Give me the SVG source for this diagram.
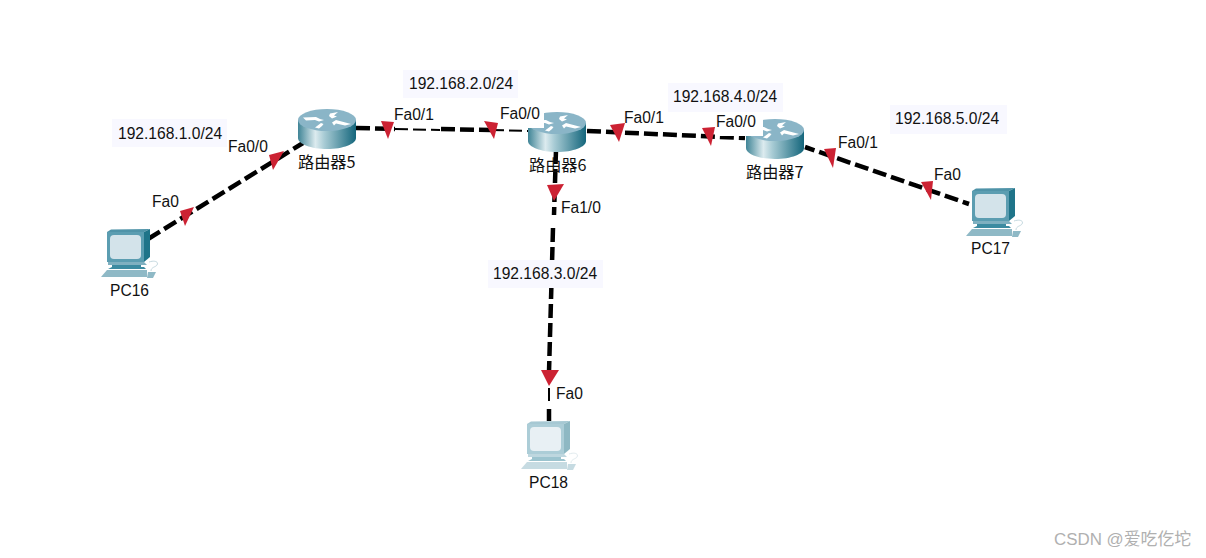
<svg xmlns="http://www.w3.org/2000/svg" xmlns:xlink="http://www.w3.org/1999/xlink" width="1206" height="558" viewBox="0 0 1206 558">
<style>
text{font-family:"Liberation Sans","Noto Sans CJK SC",sans-serif;font-size:15.6px;fill:#111}
.cjk{font-family:"Noto Sans CJK SC","Liberation Sans",sans-serif;font-size:16.2px}
.box{fill:#f8f8ff}
.w{fill:none;stroke:#000;stroke-width:4.5;stroke-dasharray:14 5}
.t{fill:none;stroke:#000;stroke-width:2;stroke-dasharray:13 5}
.m{fill:#cc2233}
.mask{fill:#fff}
.wm{font-family:"Liberation Sans","Noto Sans CJK SC",sans-serif;font-size:16.9px;fill:#b0b0b0}
</style>
<defs>
<linearGradient id="rg" x1="0" x2="1" y1="0" y2="0">
<stop offset="0" stop-color="#3f8496"/><stop offset="0.3" stop-color="#dcebef"/><stop offset="0.45" stop-color="#a9ccd5"/><stop offset="1" stop-color="#14667c"/>
</linearGradient>
<symbol id="router" width="58" height="40" viewBox="0 0 58 40" overflow="visible">
<path d="M0 11V29C0 35 13 40 29 40S58 35 58 29V11Z" fill="url(#rg)"/>
<ellipse cx="29" cy="11" rx="29" ry="11" fill="#8ab5c7"/>
<path d="M5 8.5L18 8L22 10L26 11L21 12.5L17 11L8 11.5ZM32 4.5L40 3L36 6.5L39 7.5L34 9.5L31 7ZM34 13.5L38 11L53 15L47 16.5L38 14.5L36 16.5ZM17 18.5L23 14L25.5 15L24 17L21 19.5Z" fill="#fff"/>
</symbol>
<symbol id="pc" width="58" height="49" viewBox="0 0 58 49" overflow="visible">
<path d="M6 3L10 0.5L49 0L43 3Z" fill="#4f93a8"/>
<path d="M43 3L49 0V28L43 33Z" fill="#1f7489"/>
<path d="M6 3H43V33H6Z" fill="#5b9db1"/>
<rect x="9" y="6" width="31" height="24" rx="4" fill="#d3e3ea"/>
<path d="M7 33H43L46 36H12L7 36Z" fill="#7fb0c0"/>
<path d="M11 36H40V38H43L45 40H7L11 38Z" fill="#3c8ba1"/>
<path d="M6 41H46V48H0Z" fill="#8fb9c6"/>
<path d="M47 43H55L52 49H46Z" fill="#8fb9c6"/>
<path d="M48 33C54 31 58 33 56 36C55 38 50 38 50 42" fill="none" stroke="#c4d8df" stroke-width="1"/>
</symbol>
</defs>
<g id="connectors">
<path class="w" d="M148 239L303 143"/>
<path class="w" d="M356 128L395 129"/>
<path class="t" d="M395 129L440 130"/>
<path class="w" d="M441 129L491 130"/>
<path class="t" d="M491 130L532 131"/>
<path class="w" d="M587 131L745 138"/>
<path class="w" d="M805 147L969 204" stroke-dashoffset="4"/>
<path class="w" d="M556 150L554 215" stroke-dasharray="50 5 60"/>
<path class="w" d="M553 228L549 372"/>
<path class="t" d="M549 388V405"/>
<path class="w" d="M549 409V421" stroke-dasharray="none"/>
<path class="m" d="M269 155L284 151L273 170Z"/>
<path class="m" d="M180 211L194 207L185 226Z"/>
<path class="m" d="M381 121L394 122L388 139Z"/>
<path class="m" d="M484 121L498 123L494 139Z"/>
<path class="m" d="M610 125L625 123L619 142Z"/>
<path class="m" d="M547 185L564 184L554 201Z"/>
<path class="m" d="M702 128L715 127L711 146Z"/>
<path class="m" d="M824 149L836 148L833 168Z"/>
<path class="m" d="M921 182L933 181L931 200Z"/>
<path class="m" d="M541 370H559L549 386Z"/>
</g>
<g id="router5"><use xlink:href="#router" href="#router" x="298" y="109"/><text class="cjk" x="298" y="168">路由器5</text></g>
<g id="router6"><use xlink:href="#router" href="#router" x="528" y="112"/><text class="cjk" x="529" y="171">路由器6</text></g>
<g id="router7"><use xlink:href="#router" href="#router" x="746" y="119"/><text class="cjk" x="746" y="178">路由器7</text></g>
<g id="pc16"><use xlink:href="#pc" href="#pc" x="101" y="229"/><text x="110" y="296">PC16</text></g>
<g id="pc17"><use xlink:href="#pc" href="#pc" x="966" y="188"/><text x="971" y="254">PC17</text></g>
<g id="pc18" ><use xlink:href="#pc" href="#pc" x="521" y="421" opacity="0.5"/><text x="529" y="488">PC18</text></g>
<g id="net1"><rect class="box" x="112" y="119" width="115" height="28"/><text x="118" y="139">192.168.1.0/24</text></g>
<g id="net2"><rect class="box" x="403" y="70" width="115" height="28"/><text x="409" y="89">192.168.2.0/24</text></g>
<g id="net3"><rect class="box" x="488" y="260" width="115" height="28"/><text x="493" y="279">192.168.3.0/24</text></g>
<g id="net4"><rect class="box" x="668" y="83" width="115" height="29"/><text x="673" y="102">192.168.4.0/24</text></g>
<g id="net5"><rect class="box" x="890" y="105" width="117" height="29"/><text x="895" y="124">192.168.5.0/24</text></g>
<g id="ports">
<text x="228" y="152">Fa0/0</text>
<text x="152" y="207">Fa0</text>
<text x="394" y="120">Fa0/1</text>
<rect class="mask" x="499" y="104" width="45" height="24"/>
<text x="500" y="119">Fa0/0</text>
<text x="624" y="123">Fa0/1</text>
<text x="561" y="213">Fa1/0</text>
<rect class="mask" x="715" y="112" width="48" height="24"/>
<text x="716" y="127">Fa0/0</text>
<text x="838" y="148">Fa0/1</text>
<text x="934" y="180">Fa0</text>
<text x="556" y="399">Fa0</text>
</g>
<text class="wm" x="1054" y="545">CSDN @爱吃仡坨</text>
</svg>
